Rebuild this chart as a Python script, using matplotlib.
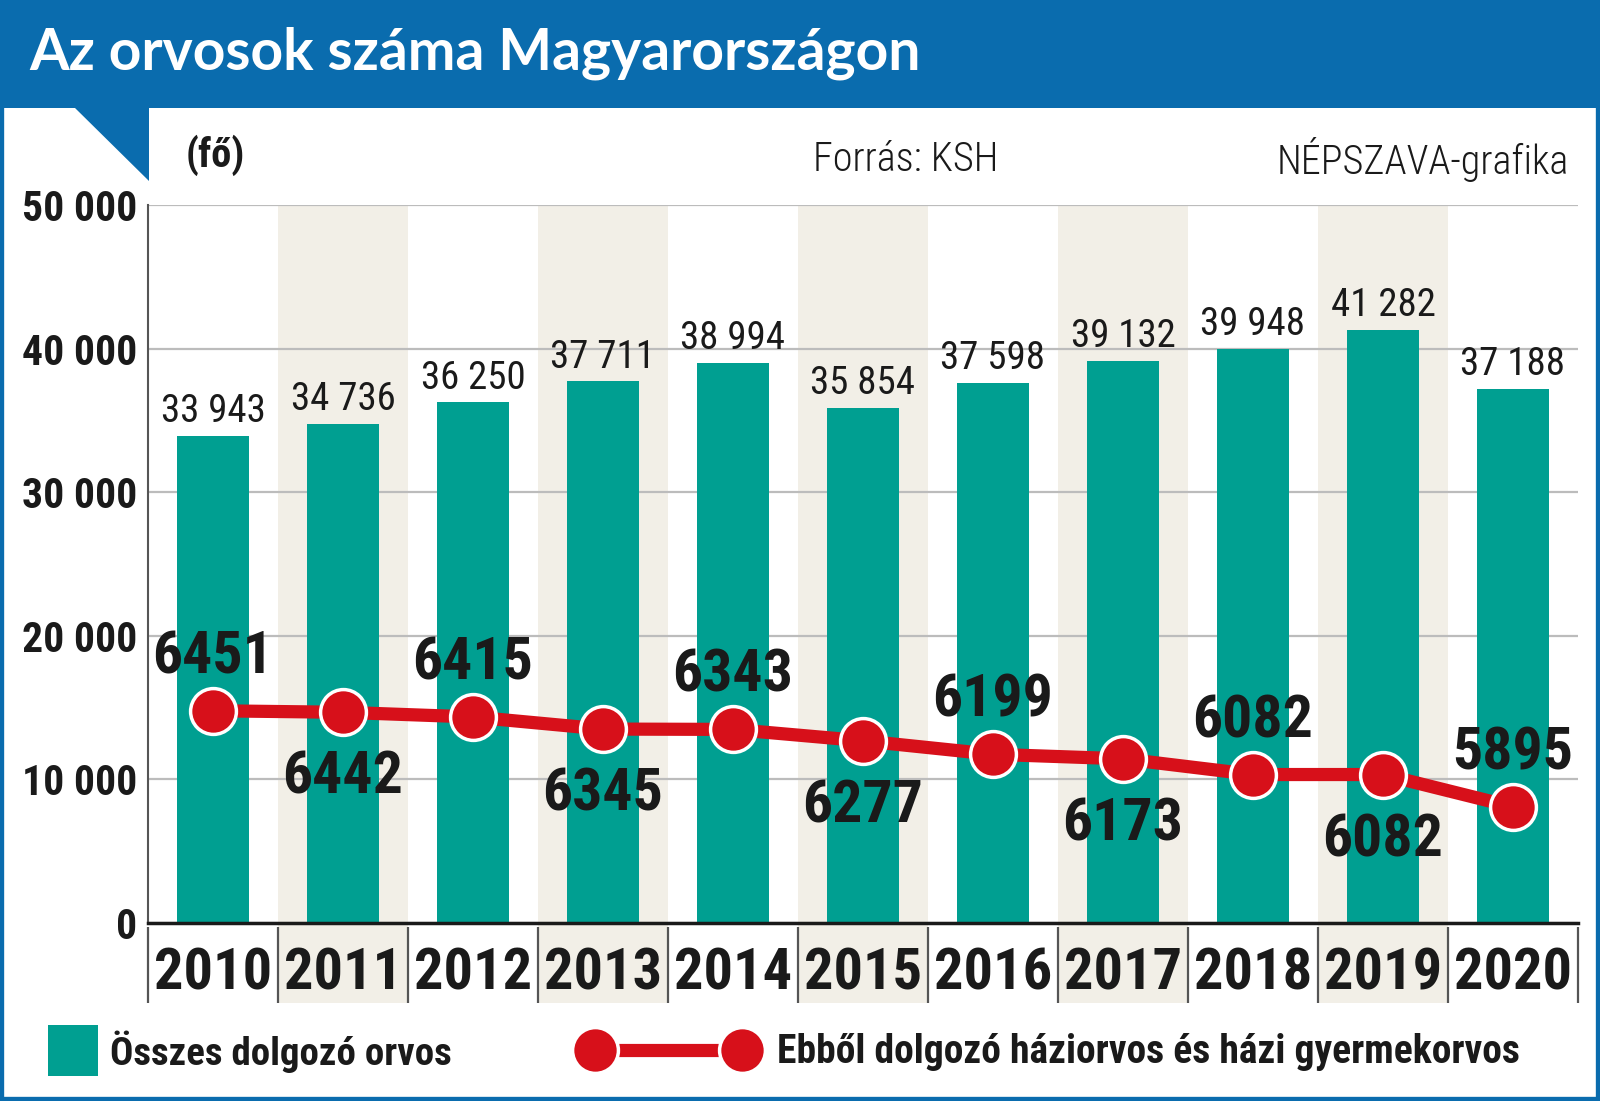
import matplotlib
matplotlib.use("Agg")
import matplotlib.pyplot as plt
from matplotlib.patches import Rectangle, Polygon
from matplotlib.lines import Line2D

# data (KSH)
years = ['2010', '2011', '2012', '2013', '2014', '2015', '2016', '2017', '2018', '2019', '2020']
osszes = [33943, 34736, 36250, 37711, 38994, 35854, 37598, 39132, 39948, 41282, 37188]
haziorvos = [6451, 6442, 6415, 6345, 6343, 6277, 6199, 6173, 6082, 6082, 5895]
y_ticks = [0, 10000, 20000, 30000, 40000, 50000]

BLUE = '#0a6cae'
TEAL = '#009f91'
RED = '#d7101a'
BEIGE = '#f2efe7'
GRID = '#bcbcbc'

COND = ['Roboto Condensed', 'Liberation Sans Narrow', 'DejaVu Sans Condensed', 'Lato', 'DejaVu Sans']
plt.rcParams['font.family'] = COND

W, H = 1600, 1101
fig = plt.figure(figsize=(W / 100, H / 100), dpi=100)


def fx(px):
    return px / W


def fy(py):
    return 1 - py / H


# frame + title bar
fig.add_artist(Rectangle((0, 0), 1, 1, transform=fig.transFigure, facecolor='white',
                         edgecolor=BLUE, linewidth=6, zorder=-10))
fig.add_artist(Rectangle((0, fy(108)), 1, 108 / H, transform=fig.transFigure,
                         facecolor=BLUE, edgecolor='none', zorder=-5))
fig.add_artist(Polygon([(fx(74), fy(107)), (fx(149), fy(107)), (fx(149), fy(181))],
                       closed=True, transform=fig.transFigure, facecolor=BLUE,
                       edgecolor='none', zorder=-5))
fig.text(fx(29), fy(70), 'Az orvosok száma Magyarországon', color='white',
         fontsize=41, fontweight='bold', family=['Lato', 'DejaVu Sans'], va='baseline')

fig.text(fx(186), fy(155), '(fő)', fontsize=29, fontweight='bold', va='center', color='#1a1a1a')
fig.text(fx(813), fy(160), 'Forrás: KSH', fontsize=29, fontweight='light', va='center', color='#1a1a1a')
fig.text(fx(1569), fy(160), 'NÉPSZAVA-grafika', fontsize=29, fontweight='light', va='center',
         ha='right', color='#1a1a1a')

ax = fig.add_axes([fx(148), fy(923), (1578 - 148) / W, (923 - 205) / H])
x = list(range(len(years)))

# alternating columns
for i in x:
    if i % 2 == 1:
        ax.axvspan(i - 0.5, i + 0.5, ymin=-0.112, ymax=1, color=BEIGE, zorder=0,
                   clip_on=False, linewidth=0)

ax.bar(x, osszes, width=0.555, color=TEAL, zorder=2)
for i, v in zip(x, osszes):
    ax.annotate(f'{v:,}'.replace(',', ' '), (i, v), xytext=(0, 10), textcoords='offset points',
                ha='center', va='baseline', fontsize=28, color='#1a1a1a')

ax.set_xlim(-0.5, len(years) - 0.5)
ax.set_ylim(0, 50000)
ax.set_yticks(y_ticks)
ax.set_yticklabels([f'{v:,}'.replace(',', ' ') for v in y_ticks], fontsize=30,
                   fontweight='bold', color='#1a1a1a')
ax.tick_params(axis='y', length=0, pad=8)
ax.set_xticks([])
ax.set_axisbelow(True)
ax.yaxis.grid(True, color=GRID, linewidth=1.6)
for s in ['top', 'right']:
    ax.spines[s].set_visible(False)
ax.spines['left'].set_color('#555555')
ax.spines['left'].set_linewidth(1.5)
ax.spines['bottom'].set_color('#1a1a1a')
ax.spines['bottom'].set_linewidth(2.5)
ax.spines['bottom'].set_zorder(5)

# year labels with separators
xt = ax.get_xaxis_transform()
for i, yr in zip(x, years):
    ax.text(i, -0.093, yr, transform=xt, ha='center', va='baseline', fontsize=42,
            fontweight='heavy', color='#1a1a1a', clip_on=False)
ax.vlines([i - 0.5 for i in range(len(years) + 1)], -0.112, -0.006, transform=xt,
          colors='#555555', linewidth=1.6, clip_on=False)

# GP line on a hidden scale
ax2 = ax.twinx()
ax2.set_ylim(5223, 9377)
ax2.axis('off')
ax2.plot(x, haziorvos, color=RED, linewidth=9.5, marker='o', markersize=33,
         markerfacecolor=RED, markeredgecolor='white', markeredgewidth=2.5, zorder=3)
for i, v in zip(x, haziorvos):
    if i % 2 == 0:
        ax2.annotate(str(v), (i, v), xytext=(0, 27), textcoords='offset points', ha='center',
                     va='baseline', fontsize=43, fontweight='heavy', color='#1a1a1a')
    else:
        ax2.annotate(str(v), (i, v), xytext=(0, -27), textcoords='offset points', ha='center',
                     va='top', fontsize=43, fontweight='heavy', color='#1a1a1a')

# legend
fig.add_artist(Rectangle((fx(48), fy(1076)), 50 / W, 51 / H, transform=fig.transFigure,
                         facecolor=TEAL, edgecolor='none'))
fig.text(fx(110), fy(1052), 'Összes dolgozó orvos', fontsize=28, fontweight='semibold',
         va='center', color='#1a1a1a')
fig.add_artist(Line2D([fx(595), fx(742)], [fy(1050), fy(1050)], transform=fig.transFigure,
                      color=RED, linewidth=9.5, marker='o', markersize=33,
                      markerfacecolor=RED, markeredgecolor='white', markeredgewidth=2.5))
fig.text(fx(777), fy(1052), 'Ebből dolgozó háziorvos és házi gyermekorvos', fontsize=28.5,
         fontweight='semibold', va='center', color='#1a1a1a')

fig.savefig('out.png', dpi=100)
